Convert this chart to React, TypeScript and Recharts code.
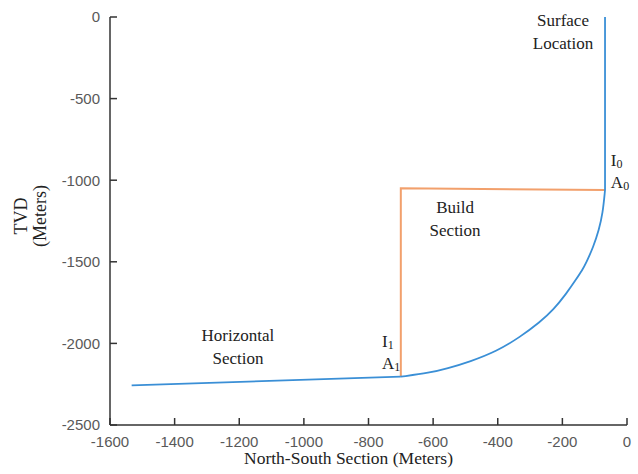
import React from 'react';
import { LineChart, Line, XAxis, YAxis, ReferenceDot, Label } from 'recharts';

// axis ticks
const nsTicks = [-1600, -1400, -1200, -1000, -800, -600, -400, -200, 0];
const tvdTicks = [-2500, -2000, -1500, -1000, -500, 0];

// well path (north-south section / TVD, meters)
const horizNS = [-1533, -700];
const horizTVD = [-2257, -2204];
const buildNS = [-700, -610, -557, -486, -402, -331, -269, -228, -187, -159, -138, -127, -104, -87, -75, -68];
const buildTVD = [-2204, -2180, -2154, -2112, -2047, -1961, -1869, -1795, -1693, -1612, -1550, -1509, -1408, -1305, -1203, -1060];
const verticalNS = [-68, -68];
const verticalTVD = [-1060, 0];

// tangent construction lines
const guideNS = [-700, -700, -68];
const guideTVD = [-2204, -1049, -1060];

// text notes placed in data units
const noteLines = [['Surface', 'Location'], ['Build', 'Section'], ['Horizontal', 'Section']];
const noteNS = [-198, -532, -1204];
const noteTVD = [-55, -1201, -1985];

// point labels: I/A with subscript
const pointSubs = ['0', '1'];
const pointNS = [-50, -758];
const pointTVD = [-913, -2022];

const zip = (xs: number[], ys: number[]) => xs.map((x, i) => ({ x, y: ys[i] }));

const BLUE = '#3a8fd6';
const ORANGE = '#f2a06c';
const AXIS = '#333';
const serif = '"Liberation Serif", "Times New Roman", serif';
const sans = '"Liberation Sans", Arial, sans-serif';

const NoteText = ({ cx, cy, lines }: any) => (
  <text textAnchor="middle" fontFamily={serif} fontSize={17} fill="#222">
    {lines.map((l: string, i: number) => (
      <tspan key={i} x={cx} y={cy + i * 23}>
        {l}
      </tspan>
    ))}
  </text>
);

const PointText = ({ cx, cy, sub }: any) => (
  <g fontFamily={serif} fill="#222">
    <text x={cx} y={cy} fontSize={17}>
      I<tspan fontSize={12} dy={2}>{sub}</tspan>
    </text>
    <text x={cx} y={cy + 22} fontSize={17}>
      A<tspan fontSize={12} dy={2}>{sub}</tspan>
    </text>
  </g>
);

const YLabel = ({ viewBox }: any) => {
  const cx = 30;
  const cy = viewBox.y + viewBox.height / 2 - 5;
  return (
    <text
      transform={`rotate(-90, ${cx}, ${cy})`}
      textAnchor="middle"
      fontFamily={serif}
      fontSize={18}
      fill="#222"
    >
      <tspan x={cx} y={cy - 3}>TVD</tspan>
      <tspan x={cx} y={cy + 16}>(Meters)</tspan>
    </text>
  );
};

const XLabel = ({ viewBox }: any) => (
  <text
    x={viewBox.x + viewBox.width / 2 - 20}
    y={viewBox.y + 39}
    textAnchor="middle"
    fontFamily={serif}
    fontSize={17.5}
    fill="#222"
  >
    North-South Section (Meters)
  </text>
);

export default function App() {
  const tickStyle = { fill: '#595959', fontSize: 15, fontFamily: sans };
  return (
    <div style={{ position: 'absolute', left: 0, top: 0, background: '#fff' }}>
      <LineChart width={638} height={474} margin={{ top: 17, right: 11, left: 0, bottom: 0 }}>
        <XAxis
          type="number"
          dataKey="x"
          domain={[-1600, 0]}
          ticks={nsTicks}
          allowDataOverflow
          height={49}
          tickSize={-7}
          tickMargin={18}
          axisLine={{ stroke: AXIS, strokeWidth: 1.5 }}
          tickLine={{ stroke: AXIS, strokeWidth: 1.5 }}
          tick={tickStyle}
          interval={0}
        >
          <Label content={<XLabel />} />
        </XAxis>
        <YAxis
          type="number"
          dataKey="y"
          domain={[-2500, 0]}
          ticks={tvdTicks}
          allowDataOverflow
          width={110}
          tickSize={-7}
          tickMargin={17}
          axisLine={{ stroke: AXIS, strokeWidth: 1.5 }}
          tickLine={{ stroke: AXIS, strokeWidth: 1.5 }}
          tick={tickStyle}
          interval={0}
        >
          <Label content={<YLabel />} />
        </YAxis>
        <Line data={zip(guideNS, guideTVD)} dataKey="y" stroke={ORANGE} strokeWidth={2} dot={false} isAnimationActive={false} />
        <Line data={zip(horizNS, horizTVD)} dataKey="y" stroke={BLUE} strokeWidth={1.8} dot={false} isAnimationActive={false} />
        <Line data={zip(buildNS, buildTVD)} type="basis" dataKey="y" stroke={BLUE} strokeWidth={1.8} dot={false} isAnimationActive={false} />
        <Line data={zip(verticalNS, verticalTVD)} dataKey="y" stroke={BLUE} strokeWidth={1.8} dot={false} isAnimationActive={false} />
        {noteLines.map((lines, i) => (
          <ReferenceDot
            key={'n' + i}
            x={noteNS[i]}
            y={noteTVD[i]}
            r={0}
            shape={(p: any) => <NoteText cx={p.cx} cy={p.cy} lines={lines} />}
          />
        ))}
        {pointSubs.map((sub, i) => (
          <ReferenceDot
            key={'p' + i}
            x={pointNS[i]}
            y={pointTVD[i]}
            r={0}
            shape={(p: any) => <PointText cx={p.cx} cy={p.cy} sub={sub} />}
          />
        ))}
      </LineChart>
    </div>
  );
}
